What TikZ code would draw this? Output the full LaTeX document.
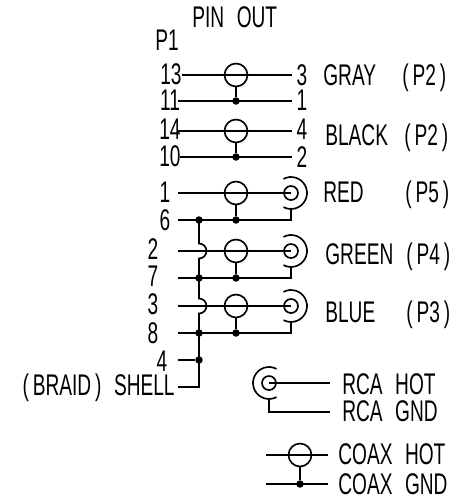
\documentclass[tikz,border=0pt]{standalone}
\usepackage{fontspec}
\setmainfont[FakeStretch=0.64]{Liberation Sans}
\tikzset{
  wire/.style={line width=0.95pt},
  coaxring/.style={draw,circle,line width=0.95pt,minimum size=0.46cm,inner sep=0pt},
  rcaring/.style={draw,circle,line width=0.95pt,minimum size=0.28cm,inner sep=0pt},
  junction/.style={fill,circle,minimum size=0.15cm,inner sep=0pt},
  lbl/.style={inner sep=0pt,text height=11.3pt,text depth=0pt,font=\fontsize{17pt}{18pt}\selectfont},
  lblw/.style={lbl,anchor=west}
}
\newcommand{\gap}{\hspace{0.42em}}
\newcommand{\paren}[1]{(\kern0.13em#1\kern0.13em)}
\begin{document}
\begin{tikzpicture}[x=0.02cm,y=-0.02cm]
\useasboundingbox (0,0) rectangle (463,498);

% titles
\node[lblw] (title) at (192,18) {PIN\gap OUT};
\node[lblw] (pone) at (155,41) {P1};

% pin numbers
\foreach \n/\t/\x/\y in {a/13/171/75,b/11/170/101,c/14/170/130,d/10/170/157,
    e/1/165/193,f/6/165/221,g/2/153/250,h/7/153/277,i/3/153/305,j/8/153/334,k/4/162/362,
    q/3/302/76,r/1/302/101,s/4/302/130,t/2/302/158}
  \node[lbl] (pin\n) at (\x,\y) {\t};
\node[lbl,anchor=east] (shell) at (175,386) {\paren{BRAID}\gap SHELL};

% wire ends
\foreach \n/\x/\y in {a/182/75,b/178/101,c/178/131,d/180/157,e/178/193,f/178/220,
    g/178/251,h/178/278,i/178/306,j/178/333,k/178/360,l/178/387}
  \coordinate (left\n) at (\x,\y);

% coax pairs going to a pin
\foreach \top/\bot/\ytop/\ybot in {a/b/75/101,c/d/131/157} {
  \node[coaxring] (ring\top) at (236,\ytop) {};
  \node[junction] (dot\bot) at (236,\ybot) {};
  \coordinate (right\top) at (292,\ytop);
  \coordinate (right\bot) at (292,\ybot);
  \draw[wire] (left\top) -- (right\top);
  \draw[wire] (left\bot) -- (right\bot);
  \draw[wire] (ring\top) -- (dot\bot);
}

% coax pairs going to a jack
\foreach \top/\bot/\ytop/\ybot in {e/f/193/220,g/h/251/278,i/j/306/333} {
  \node[coaxring] (ring\top) at (236,\ytop) {};
  \node[junction] (dot\bot) at (236,\ybot) {};
  \node[rcaring] (jack\top) at (291,\ytop) {};
  \node[junction] (gnd\bot) at (199,\ybot) {};
  \coordinate (right\bot) at (291,\ybot);
  \draw[wire] (left\top) -- (jack\top.center);
  \draw[wire] (left\bot) -- (right\bot) -- (jack\top.center |- 0,\ytop+16);
  \draw[wire] (ring\top) -- (dot\bot);
  \draw[wire] (jack\top.center) ++(118:0.32cm) arc[start angle=118,end angle=-118,radius=0.32cm];
}

% braid bus
\node[junction] (dotk) at (199,360) {};
\coordinate (corner) at (199,387);
\draw[wire] (leftk) -- (dotk);
\draw[wire] (199,220) -- (199,243.5) arc[start angle=90,end angle=-90,radius=0.15cm]
  -- (199,298.5) arc[start angle=90,end angle=-90,radius=0.15cm]
  -- (corner) -- (leftl);

% jack labels
\node[lblw] at (323,76) {GRAY};
\node[lblw] at (402,76) {\paren{P2}};
\node[lblw] at (325,136) {BLACK};
\node[lblw] at (404,136) {\paren{P2}};
\node[lblw] at (323,193) {RED};
\node[lblw] at (405,193) {\paren{P5}};
\node[lblw] at (325,255) {GREEN};
\node[lblw] at (406,255) {\paren{P4}};
\node[lblw] at (325,313) {BLUE};
\node[lblw] at (406,313) {\paren{P3}};

% legend rca
\node[rcaring] (legjack) at (269,383) {};
\coordinate (leghot) at (330,383);
\coordinate (leggnd) at (330,412);
\draw[wire] (legjack.center) -- (leghot);
\draw[wire] (269,399) |- (leggnd);
\draw[wire] (legjack.center) ++(62:0.32cm) arc[start angle=62,end angle=298,radius=0.32cm];
\node[lblw] at (342,385) {RCA\gap HOT};
\node[lblw] at (342,412) {RCA\gap GND};

% legend coax
\node[coaxring] (legring) at (300,455) {};
\node[junction] (legdot) at (300,484) {};
\draw[wire] (266,455) -- (328,455);
\draw[wire] (266,484) -- (328,484);
\draw[wire] (legring) -- (legdot);
\node[lblw] at (338,455) {COAX\gap HOT};
\node[lblw] at (338,485) {COAX\gap GND};
\end{tikzpicture}
\end{document}
